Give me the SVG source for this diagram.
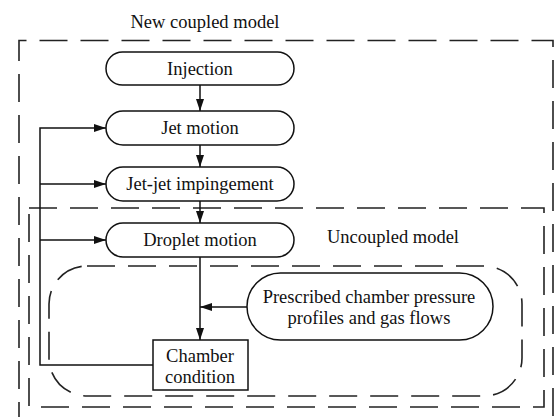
<svg xmlns="http://www.w3.org/2000/svg" width="554" height="417" viewBox="0 0 554 417">
<defs>
<marker id="ah" markerWidth="12" markerHeight="8" refX="12" refY="4" orient="auto" markerUnits="userSpaceOnUse">
<path d="M0,0 L12,4 L0,8 Z" fill="#111"/>
</marker>
<style>
text{font-size:18.5px;fill:#111;text-anchor:middle}
.n{fill:#fff;stroke:#111;stroke-width:1.5}
.d{fill:none;stroke:#222;stroke-width:1.6;stroke-dasharray:28 13}
.c{fill:none;stroke:#111;stroke-width:1.5}
</style>
</defs>
<rect width="554" height="417" fill="#fff"/>
<g font-family="'Liberation Serif', 'DejaVu Serif', 'Times New Roman', serif">
<g id="outer-box">
<path class="d" d="M19,430 V40.5 H553 V430"/>
<text x="205" y="28">New coupled model</text>
</g>
<g id="uncoupled-box">
<rect class="d" x="29" y="208" width="515" height="199"/>
<text x="393" y="243">Uncoupled model</text>
</g>
<g id="prescribed-box">
<rect class="d" x="49" y="266" width="473" height="130" rx="38" ry="38"/>
</g>
<g id="connectors">
<line class="c" x1="200" y1="85" x2="200" y2="111" marker-end="url(#ah)"/>
<line class="c" x1="200" y1="145" x2="200" y2="167" marker-end="url(#ah)"/>
<line class="c" x1="200" y1="201" x2="200" y2="223" marker-end="url(#ah)"/>
<line class="c" x1="200" y1="257" x2="200" y2="340" marker-end="url(#ah)"/>
<line class="c" x1="247" y1="307" x2="200" y2="307" marker-end="url(#ah)"/>
<path class="c" d="M153,365 H40 V128 H106" marker-end="url(#ah)"/>
<line class="c" x1="40" y1="184" x2="106" y2="184" marker-end="url(#ah)"/>
<line class="c" x1="40" y1="240" x2="106" y2="240" marker-end="url(#ah)"/>
</g>
<g id="injection">
<rect class="n" x="106" y="52" width="188" height="33" rx="16.5"/>
<text x="200" y="75">Injection</text>
</g>
<g id="jet-motion">
<rect class="n" x="106" y="111" width="188" height="34" rx="17"/>
<text x="200" y="134">Jet motion</text>
</g>
<g id="jet-jet-impingement">
<rect class="n" x="106" y="167" width="188" height="34" rx="17"/>
<text x="200" y="190">Jet-jet  impingement</text>
</g>
<g id="droplet-motion">
<rect class="n" x="106" y="223" width="188" height="34" rx="17"/>
<text x="200" y="246">Droplet motion</text>
</g>
<g id="prescribed">
<rect class="n" x="247" y="273" width="246" height="67" rx="33.5"/>
<text x="369" y="303">Prescribed chamber pressure</text>
<text x="369" y="324">profiles and gas flows</text>
</g>
<g id="chamber-condition">
<rect class="n" x="153" y="340" width="95" height="50"/>
<text x="200" y="362">Chamber</text>
<text x="200" y="383">condition</text>
</g>
</g>
</svg>
